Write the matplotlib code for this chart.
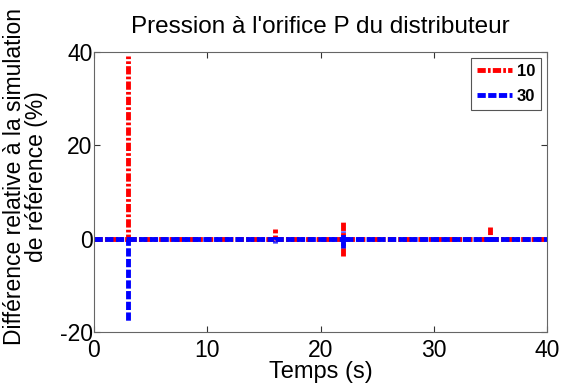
import matplotlib

matplotlib.use("Agg")
import matplotlib.pyplot as plt

plt.rcParams["font.family"] = ["Liberation Sans", "DejaVu Sans"]
plt.rcParams["axes.unicode_minus"] = False

nan = float("nan")

# time points (s) and relative difference (%) for each simulation;
# nan breaks the line so a spike is not stroked twice
t_10 = [0, 3.0, 3.0, 3.0, 3.0, 16.0, 16.0, 16.0, 16.0,
        22.0, 22.0, 22.0, 22.0, 22.0, 35.0, 35.0, 35.0, 35.0, 40]
d_10 = [0, 0, 39.2, nan, 0, 0, 2.1, nan, 0,
        0, 3.9, nan, -3.7, 0, 0, 2.4, nan, 0, 0]
t_30 = [0, 3.0, 3.0, 3.0, 3.0, 16.0, 16.0, 16.0, 16.0,
        22.0, 22.0, 22.0, 22.0, 22.0, 35.0, 35.0, 35.0, 35.0, 40]
d_30 = [0, 0, -17.6, nan, 0, 0, -1.0, nan, 0,
        0, 1.7, nan, -2.1, 0, 0, -1.0, nan, 0, 0]

fig = plt.figure(figsize=(5.64, 3.88), dpi=100)
ax = fig.add_axes([94 / 564, 1 - 332 / 388, 453 / 564, 280 / 388])

ax.plot(t_10, d_10, color="#ff0000", lw=3.5, ls=(0, (1.7, 0.45, 0.55, 0.45)),
        label="10")
ax.plot(t_30, d_30, color="#0000ff", lw=3.5, ls=(0, (1.7, 0.5)), label="30")

ax.set_xlim(0, 40)
ax.set_ylim(-20, 40)
ax.set_xticks([0, 10, 20, 30, 40])
ax.set_yticks([-20, 0, 20, 40])
ax.tick_params(direction="in", top=True, right=True, labelsize=16.5,
               length=4, width=0.8, colors="#333333", labelcolor="black")
ax.tick_params(axis="x", pad=5)
ax.tick_params(axis="y", pad=1)
for s in ax.spines.values():
    s.set_color("#666666")

ax.set_title("Pression à l'orifice P du distributeur", fontsize=17.5, pad=14)
ax.set_xlabel("Temps (s)", fontsize=17, labelpad=-1)
ax.set_ylabel("Différence relative à la simulation\nde référence (%)",
              fontsize=16.5, linespacing=0.95)
ax.yaxis.set_label_coords(-0.102, 0.554)

leg = ax.legend(loc="upper right", prop={"weight": "bold", "size": 12},
                handlelength=2.1, borderaxespad=0.35, fancybox=False,
                edgecolor="#555555", framealpha=1, handletextpad=0.3,
                borderpad=0.35, labelspacing=0.6)
leg.get_frame().set_linewidth(0.8)

fig.savefig("out.png", dpi=100)
